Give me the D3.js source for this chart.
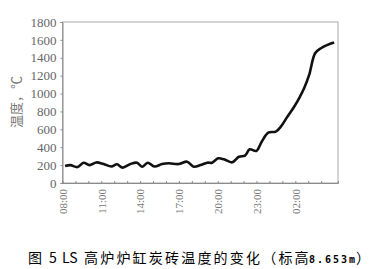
<!DOCTYPE html>
<html><head><meta charset="utf-8">
<script src="https://cdn.jsdelivr.net/npm/d3@7"></script>
<style>body{margin:0;background:#fff}svg{display:block}</style>
</head><body>
<script>
// hours elapsed since 08:00
const hours = [0.2,0.6,1.16,1.63,2.09,2.61,3.18,3.78,4.21,4.65,5.25,5.76,6.15,6.59,7.11,7.7,8.22,8.99,9.64,10.16,10.67,11.19,11.57,12.04,12.48,13.12,13.64,14.11,14.47,14.98,15.4,15.91,16.49,16.88,17.39,17.91,18.29,18.68,19.07,19.53,19.98,20.49,21.0];
const temps = [190,200,178,227,200,230,212,185,209,172,212,227,182,227,184,212,220,212,238,182,200,227,227,276,265,231,294,305,377,358,462,563,574,630,742,853,947,1059,1208,1451,1507,1544,1570];
const xTickHours = [0,3,6,9,12,15,18];
const xTickLabels = ["08:00","11:00","14:00","17:00","20:00","23:00","02:00"];
const yTicks = [0,200,400,600,800,1000,1200,1400,1600,1800];

const W=376,H=269;
const m={l:62.5,t:22,r:338,b:183};
const svg=d3.select("body").append("svg").attr("width",W).attr("height",H);
const x=d3.scaleLinear().domain([0,21.3]).range([m.l,m.r]);
const y=d3.scaleLinear().domain([0,1800]).range([m.b,m.t]);
const grey="#8a8a8a", txt="#666";
const serif="'Liberation Serif', 'DejaVu Serif', serif";

// frame
svg.append("rect").attr("x",m.l).attr("y",m.t).attr("width",m.r-m.l).attr("height",m.b-m.t)
  .attr("fill","none").attr("stroke","#aaa").attr("stroke-width",1);

// y axis
const ya=svg.append("g").attr("transform",`translate(${m.l},0)`)
  .call(d3.axisLeft(y).tickValues(yTicks).tickSize(2).tickPadding(4).tickFormat(d3.format("d")));
ya.attr("font-family",null);
ya.select(".domain").attr("stroke",grey);
ya.selectAll(".tick line").attr("stroke",grey);
ya.selectAll("text").style("font-family",serif).style("font-size","13px").attr("fill",txt);

// x axis minor ticks (inside)
const xa=svg.append("g").attr("transform",`translate(0,${m.b})`)
  .call(d3.axisTop(x).tickValues(d3.range(1,21)).tickSize(2).tickFormat(""));
xa.select(".domain").attr("stroke",grey);
xa.selectAll(".tick line").attr("stroke",grey);

// x labels rotated
const xl=svg.append("g").attr("transform",`translate(0,${m.b})`)
  .call(d3.axisBottom(x).tickValues(xTickHours).tickSize(0).tickFormat((d,i)=>xTickLabels[i]));
xl.attr("font-family",null);
xl.select(".domain").remove();
xl.selectAll("text").style("font-family",serif).style("font-size","11px").attr("fill","#777")
  .attr("transform","rotate(-90)").attr("text-anchor","end").attr("dy","0.35em").attr("x",-6).attr("y",0);

// y label
svg.append("text").attr("transform","translate(21,102) rotate(-90)").attr("text-anchor","middle")
  .style("font-family","'Noto Sans CJK SC', sans-serif").style("font-size","13px").attr("fill","#777").text("温度，℃");

// line
svg.append("path").datum(hours.map((h,i)=>[h,temps[i]]))
  .attr("d",d3.line().x(d=>x(d[0])).y(d=>y(d[1])).curve(d3.curveCatmullRom))
  .attr("fill","none").attr("stroke","#111").attr("stroke-width",2.6).attr("stroke-linejoin","round");

// caption
const cap=svg.append("text").attr("y",263).style("font-family","'Noto Sans CJK SC', sans-serif").attr("fill","#000").style("font-size","14px");
cap.append("tspan").attr("x",28).text("图");
cap.append("tspan").attr("x",49).text("5");
cap.append("tspan").attr("x",62).text("LS");
cap.append("tspan").attr("x",84).style("letter-spacing","2.2px").text("高炉炉缸炭砖温度的变化（标高");
cap.append("tspan").attr("x",309).style("font-size","10px").style("letter-spacing","2px").style("font-weight","bold").style("font-family","'DejaVu Sans Mono', monospace").text("8.653m");
cap.append("tspan").attr("x",356).text("）");
</script>
</body></html>
